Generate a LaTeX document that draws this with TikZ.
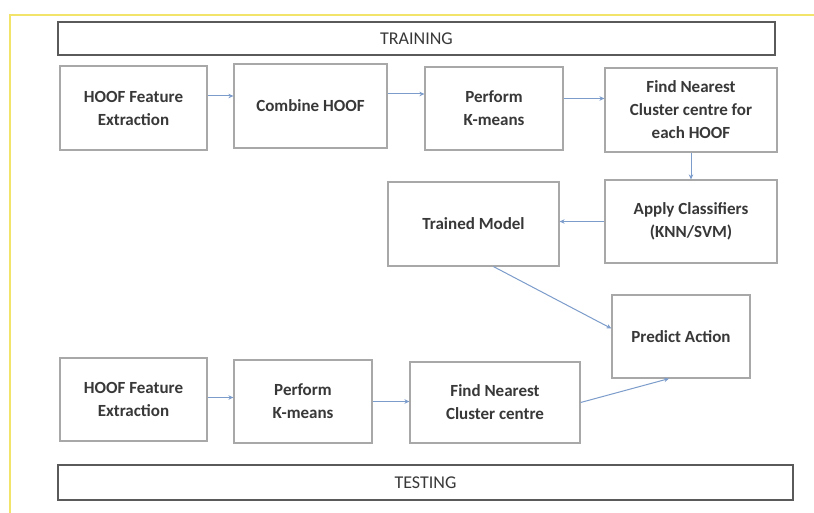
\documentclass[tikz,border=0pt]{standalone}
\usepackage{fontspec}
\setmainfont{Carlito}
\usepackage{xcolor}
\usetikzlibrary{arrows.meta}
\usetikzlibrary{calc}
\definecolor{framey}{HTML}{F2E36A}
\definecolor{boxgray}{HTML}{A8A8A8}
\definecolor{bargray}{HTML}{5A5A5A}
\definecolor{flowblue}{HTML}{7C9CCB}
\definecolor{txt}{HTML}{383838}

\begin{document}
\begin{tikzpicture}[x=1pt,y=-1pt,
    procbox/.style={draw=boxgray,line width=1.2pt,fill=white,align=center,
      text=txt,font=\fontsize{17}{23}\selectfont\bfseries,inner sep=0pt},
    phasebar/.style={draw=bargray,line width=1.6pt,fill=white,text=txt,
      font=\fontsize{18}{20}\selectfont,inner sep=0pt},
    flow/.style={draw=flowblue,line width=1pt,-{Stealth[length=5pt,width=4.5pt]}}]
    \useasboundingbox (0,0) rectangle (814,513);
    \fill[white] (0,0) rectangle (814,513);
    \draw[framey,line width=2pt] (10,514) -- (10,15) -- (815,15);
    % phase bars
    \node[phasebar,minimum width=717pt,minimum height=33pt] (train) at (416.5,38.5) {TRAINING};
    \node[phasebar,minimum width=735pt,minimum height=35pt] (test) at (425.5,482.5) {TESTING};
    % training row
    \node[procbox,minimum width=147pt,minimum height=84pt] (hfeA) at (133.5,108) {HOOF Feature\\Extraction};
    \node[procbox,minimum width=153pt,minimum height=84pt] (comb) at (310.5,106) {Combine HOOF};
    \node[procbox,minimum width=138pt,minimum height=83pt] (kmA) at (494,108.5) {Perform\\K-means};
    \node[procbox,minimum width=172pt,minimum height=84pt] (fncA) at (691,110) {Find Nearest\\Cluster centre for\\each HOOF};
    \node[procbox,minimum width=172pt,minimum height=83pt] (apply) at (691,221.5) {Apply Classifiers\\(KNN/SVM)};
    \node[procbox,minimum width=171pt,minimum height=84pt] (model) at (473.5,224) {Trained Model};
    \node[procbox,minimum width=138pt,minimum height=83pt] (pred) at (681,336.5) {Predict Action};
    % testing row
    \node[procbox,minimum width=147pt,minimum height=83pt] (hfeB) at (133.5,399.5) {HOOF Feature\\Extraction};
    \node[procbox,minimum width=138pt,minimum height=83pt] (kmB) at (303,401.5) {Perform\\K-means};
    \node[procbox,minimum width=170pt,minimum height=81pt] (fncB) at (495,402.5) {Find Nearest\\Cluster centre};
    % connectors
    \draw[flow] ([yshift=12pt]hfeA.east) -- ([yshift=12pt]hfeA.east -| comb.west);
    \draw[flow] ([yshift=12pt]comb.east) -- ([yshift=12pt]comb.east -| kmA.west);
    \draw[flow] ([yshift=10pt]kmA.east) -- ([yshift=10pt]kmA.east -| fncA.west);
    \draw[flow] (fncA.south) -- (apply.north);
    \draw[flow] (apply.west) -- (apply.west -| model.east);
    \draw[flow] ($(model.south)+(20,0)$) -- ($(pred.west)+(0,-8)$);
    \draw[flow] ([yshift=2pt]hfeB.east) -- ([yshift=2pt]hfeB.east -| kmB.west);
    \draw[flow] (kmB.east) -- (kmB.east -| fncB.west);
    \draw[flow] (fncB.east) -- ($(pred.south)+(-12,0)$);
  \end{tikzpicture}
\end{document}
